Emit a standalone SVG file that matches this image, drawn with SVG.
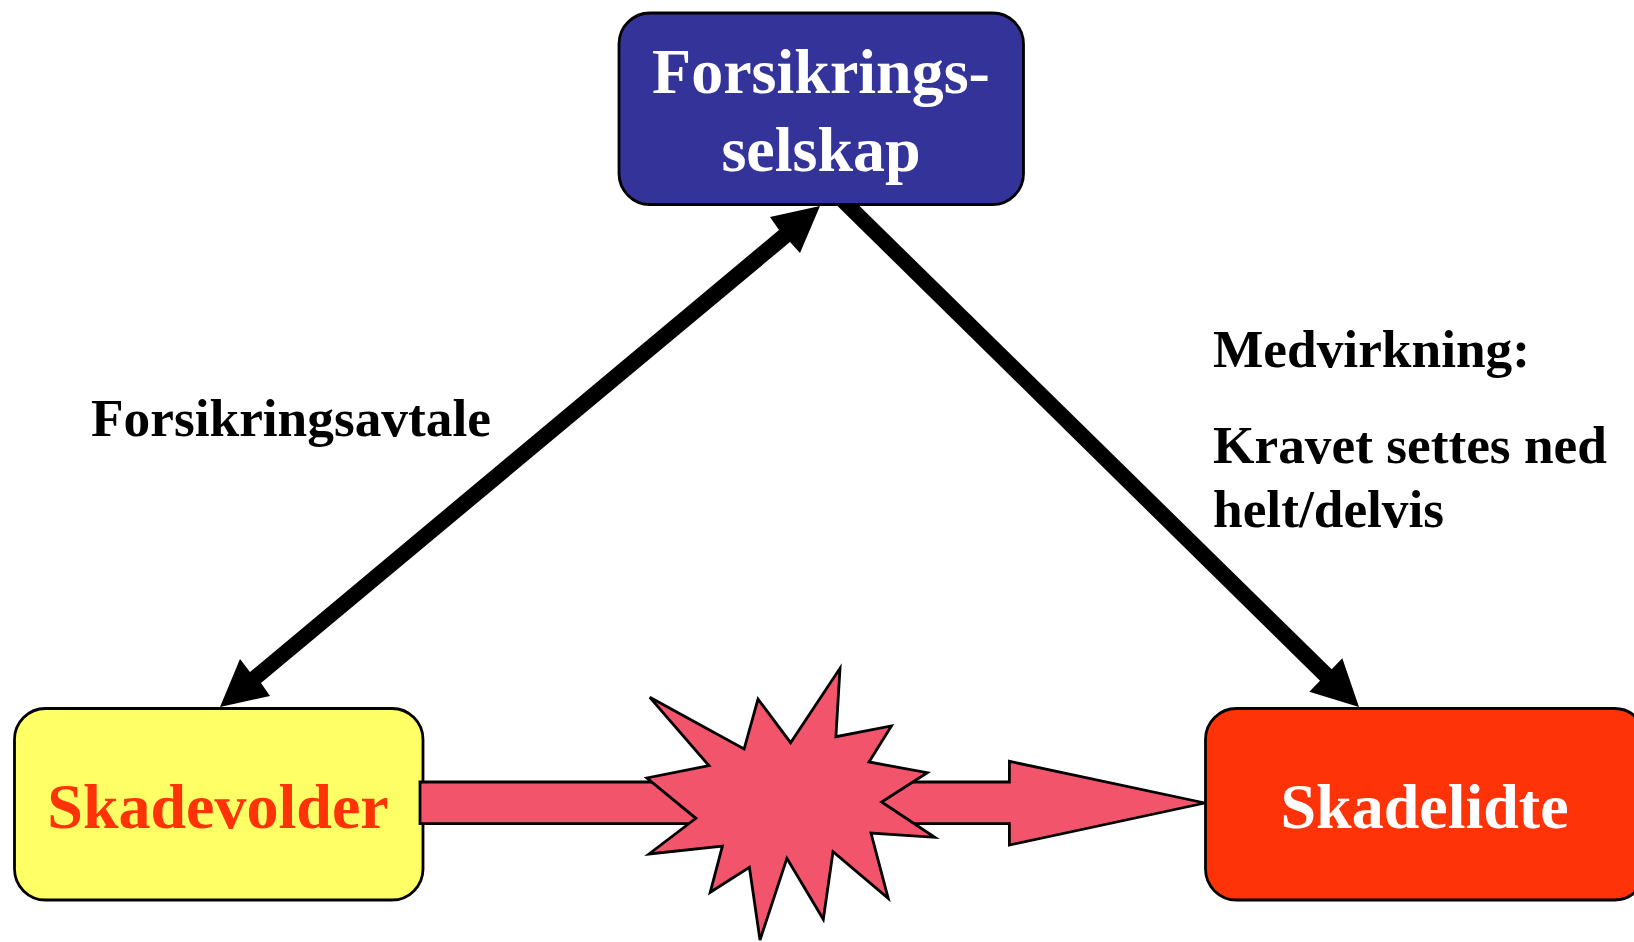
<svg xmlns="http://www.w3.org/2000/svg" width="1634" height="942" viewBox="0 0 1634 942">
<style>
.box{stroke:#000;stroke-width:2.8}
.pink{fill:#F2556B;stroke:#000;stroke-width:2.8;stroke-linejoin:miter}
text{font-family:"Liberation Serif","Times New Roman",serif;font-weight:bold}
.big{font-size:64px;text-anchor:middle}
.lab{font-size:53.33px;fill:#000}
</style>
<rect width="1634" height="942" fill="#fff"/>
<g id="forsikringsselskap">
<rect class="box" x="619" y="13" width="404.500" height="191.500" rx="31" fill="#333399"/>
<text class="big" x="821" y="93" fill="#fff">Forsikrings-</text>
<text class="big" x="821" y="171" fill="#fff">selskap</text>
</g>
<g id="skadevolder">
<rect class="box" x="14.500" y="708.500" width="408.500" height="191.500" rx="31" fill="#FFFF66"/>
<text class="big" x="218" y="828" fill="#FF3307">Skadevolder</text>
</g>
<g id="skadelidte">
<rect class="box" x="1205.500" y="708.500" width="440" height="191.500" rx="31" fill="#FF3307"/>
<text class="big" x="1424.500" y="828" fill="#fff">Skadelidte</text>
</g>
<g id="connectors">
<polygon id="damage-arrow" class="pink" points="420,782 1009.400,782 1009.400,761.300 1205,803 1009.400,845 1009.400,823.700 420,823.700"/>
<polygon id="link-agreement" fill="#000" points="820,206 800,253 790,242 261,683 270,696 220,707 240,659 250,672 779,230 770,217"/>
<polygon id="link-contribution" fill="#000" points="837,205.500 859,205.500 1331.700,669.300 1342.300,658.300 1359,707 1309.300,691.700 1320,680.700"/>
</g>
<g id="burst">
<polygon class="pink" points="649.800,697.300 744.100,749 758,699 790.600,742.700 840,668.300 835.900,736.700 891.400,726 869,762 927.300,772.700 881.600,802 934.700,837.300 871,833 888.200,898.300 833,851.700 823.300,919.300 786.900,858.300 760,940 749.400,867.300 710.200,892.300 722.400,846 649,854 695.900,818.300 646.900,778 709,765.700"/>
</g>
<g id="labels">
<text class="lab" x="91" y="436">Forsikringsavtale</text>
<text class="lab" x="1213" y="367">Medvirkning:</text>
<text class="lab" x="1213" y="463">Kravet settes ned</text>
<text class="lab" x="1213" y="527">helt/delvis</text>
</g>
</svg>
